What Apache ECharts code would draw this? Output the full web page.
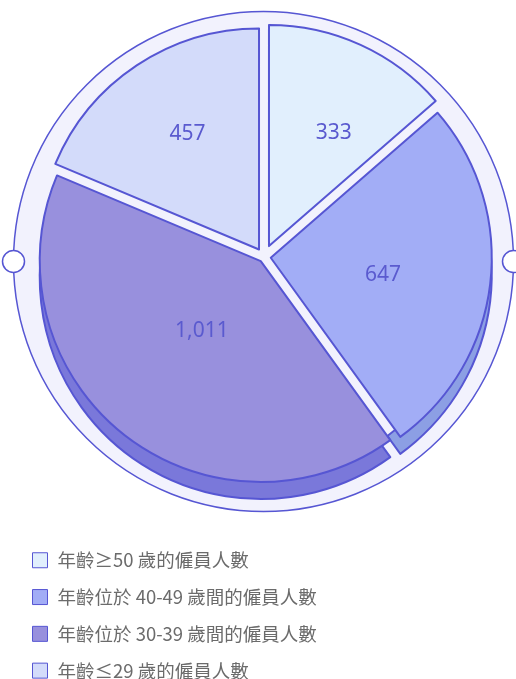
<!DOCTYPE html>
<html>
<head>
<meta charset="utf-8">
<title>僱員年齡分佈</title>
<script src="https://cdn.jsdelivr.net/npm/echarts@6/dist/echarts.min.js"></script>
<style>
    html, body {margin: 0;padding: 0;background: #fff;}
    #chart {width: 516px;height: 679px;}
</style>
</head>
<body>
<div id="chart"></div>
<script>
    // 數據
    var categories = ['年齡≥50 歲的僱員人數', '年齡位於 40-49 歲間的僱員人數', '年齡位於 30-39 歲間的僱員人數', '年齡≤29 歲的僱員人數'];
    var values = [333, 647, 1011, 457];

    // 樣式
    var faceColors = ['#e1effd', '#a2adf6', '#9890dd', '#d3dbfa'];
    var sideColors = [null, '#8c9fe4', '#7a78da', null];   // 上半部的扇形看不到側面
    var explode = [12, 6.8, 5.2, 9];                         // 各扇形拉開的距離
    var labelNudge = [[17.7, -9.5], [-0.5, 4.7], [11.7, -19.4], [-8.8, -20.7]];
    var lineColor = '#5656d3';
    var ringColor = '#f2f2fd';
    var hidden = 'rgba(0,0,0,0)';
    var pieCenter = [264, 257], pieR = 221, depth = 17;

    var myChart = echarts.init(document.getElementById('chart'));

    // 每個扇形用一個系列畫（其他扇形透明），這樣每塊可以有自己的拉開距離
    function pieLayer(k, isSide) {
        var color = isSide ? sideColors[k] : faceColors[k];
        return {
            name: (isSide ? 'side' : 'face') + k, type: 'pie',
            z: isSide ? 2 : 3, silent: isSide,
            center: isSide ? [pieCenter[0], pieCenter[1] + depth] : pieCenter,
            radius: isSide ? [pieR - 22, pieR] : [0, pieR],
            startAngle: 90, clockwise: true,
            selectedMode: 'multiple', selectedOffset: explode[k],
            label: {
                show: !isSide, position: 'inside',
                fontSize: 21, color: '#5a5acf',
                fontFamily: '"Noto Sans", sans-serif',
                formatter: function (p) { return p.value.toLocaleString('en-US'); }
            },
            labelLayout: function (p) {
                return {dx: labelNudge[p.dataIndex][0], dy: labelNudge[p.dataIndex][1]};
            },
            labelLine: {show: false},
            emphasis: {disabled: true},
            data: values.map(function (v, i) {
                var show = i === k && color;
                return {
                    value: v, name: categories[i], selected: true,
                    itemStyle: show ? {color: color, borderColor: lineColor, borderWidth: 2}
                        : {color: hidden, borderWidth: 0},
                    label: {show: !!show && !isSide}
                };
            })
        };
    }

    var series = [];
    for (var k = 0; k < values.length; k++) {
        series.push(pieLayer(k, false));
        series.push(pieLayer(k, true));
    }
    series.push({
        // 背景圓
        name: 'bg', type: 'pie', z: 1, silent: true,
        center: [263.5, 261.5], radius: [0, 250],
        itemStyle: {color: ringColor, borderColor: lineColor, borderWidth: 1.5},
        label: {show: false}, labelLine: {show: false},
        emphasis: {disabled: true},
        data: [{value: 1, name: 'bg'}]
    });

    var option = {
        animation: false,
        legend: {
            data: categories.map(function (c, i) {
                return {name: c, itemStyle: {color: faceColors[i], borderColor: lineColor, borderWidth: 1}};
            }),
            orient: 'vertical',
            left: 27,
            top: 546,
            height: 200,
            itemWidth: 15,
            itemHeight: 15,
            itemGap: 18.3,
            icon: 'rect',
            selectedMode: false,
            textStyle: {
                fontSize: 18.5, lineHeight: 18, color: '#6b6b6b',
                fontFamily: '"Noto Sans CJK TC", "Noto Sans", sans-serif',
                padding: [0, 0, 0, 5]
            }
        },
        series: series,
        graphic: [
            {type: 'circle', shape: {cx: 13.5, cy: 261.5, r: 11}, style: {fill: '#fff', stroke: lineColor, lineWidth: 1.5}, z: 10},
            {type: 'circle', shape: {cx: 513.5, cy: 261.5, r: 11}, style: {fill: '#fff', stroke: lineColor, lineWidth: 1.5}, z: 10}
        ]
    };
    myChart.setOption(option);
</script>
</body>
</html>
